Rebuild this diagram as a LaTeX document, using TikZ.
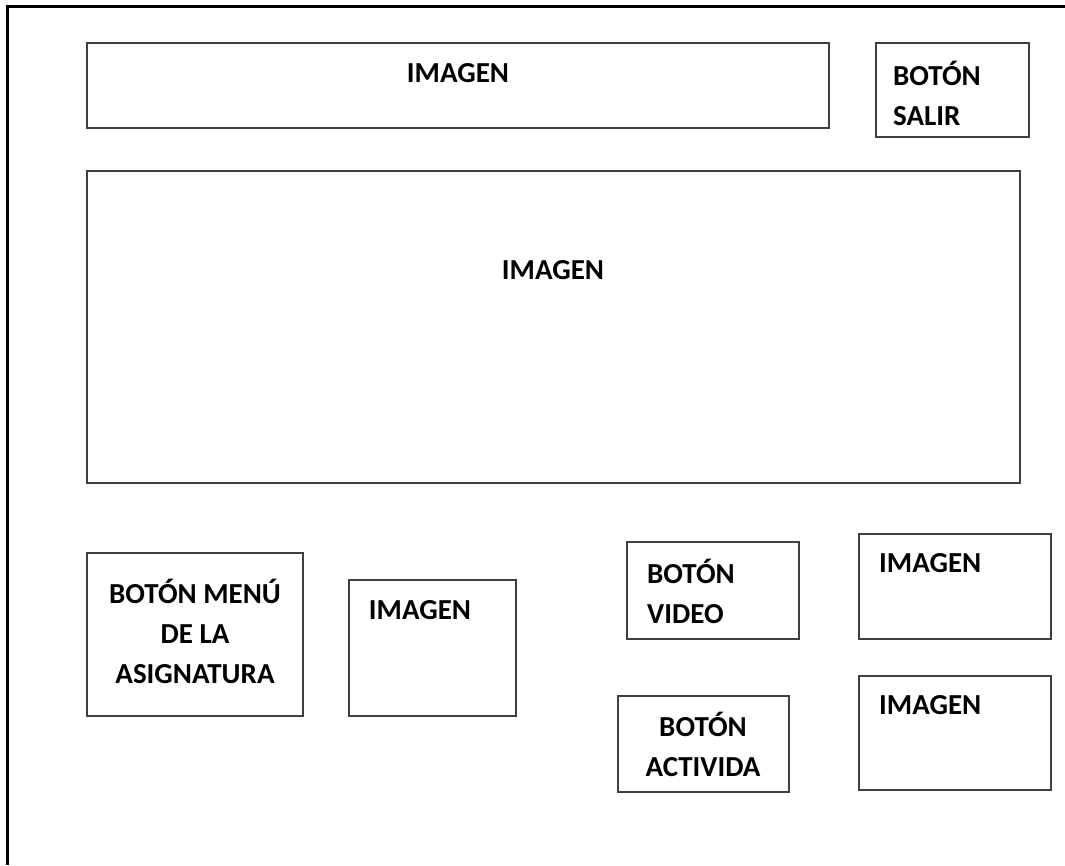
\documentclass[tikz,border=0pt]{standalone}
\usepackage{fontspec}
\setmainfont{Carlito}
\begin{document}
\begin{tikzpicture}[x=1pt,y=-1pt,
  box/.style={draw=black!75, line width=1.2pt, inner sep=0pt},
  lbl/.style={font=\fontsize{29}{40}\selectfont\bfseries, inner sep=0pt, text=black},
  mlbl/.style={lbl, align=center},
  llbl/.style={lbl, align=left}]
\useasboundingbox (0,0) rectangle (1065,865);
\draw[line width=3pt] (7,865) -- (7,6) -- (1065,6);
% boxes
\node[box, minimum width=742pt, minimum height=85pt] (b1) at (458,85.5) {};
\node[box, minimum width=153pt, minimum height=94pt] (b2) at (952.5,90) {};
\node[box, minimum width=933pt, minimum height=312pt] (b3) at (553.5,327) {};
\node[box, minimum width=216pt, minimum height=163pt] (b4) at (195,634.5) {};
\node[box, minimum width=167pt, minimum height=136pt] (b5) at (432.5,648) {};
\node[box, minimum width=172pt, minimum height=97pt] (b6) at (713,590.5) {};
\node[box, minimum width=192pt, minimum height=105pt] (b7) at (955,586.5) {};
\node[box, minimum width=171pt, minimum height=96pt] (b8) at (703.5,744) {};
\node[box, minimum width=192pt, minimum height=114pt] (b9) at (955,733) {};
% labels
\node[lbl] (t1) at (458,73) {IMAGEN};
\node[llbl, anchor=west] (t2) at (893,93) {BOTÓN\\SALIR};
\node[lbl] (t3) at (553,270) {IMAGEN};
\node[mlbl] (t4) at (195,631) {BOTÓN MENÚ\\DE LA\\ASIGNATURA};
\node[lbl] (t5) at (420,610) {IMAGEN};
\node[llbl, anchor=west] (t6) at (647,591) {BOTÓN\\VIDEO};
\node[lbl, anchor=west] (t7) at (879,563) {IMAGEN};
\node[mlbl] (t8) at (703,744) {BOTÓN\\ACTIVIDA};
\node[lbl, anchor=west] (t9) at (879,705) {IMAGEN};
\end{tikzpicture}
\end{document}
